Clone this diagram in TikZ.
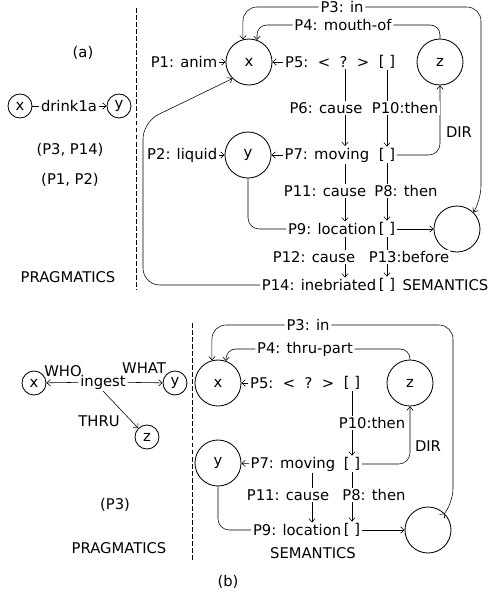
\documentclass[tikz,border=0pt]{standalone}
\usepackage{fontspec}
\setmainfont{DejaVu Sans}
\usetikzlibrary{arrows.meta,backgrounds}

\begin{document}
\begin{tikzpicture}[
  x=0.025cm, y=-0.025cm, line width=0.6pt,
  >={Straight Barb[length=2.5pt,width=4.5pt]},
  every node/.style={font=\fontsize{10.5}{12}\selectfont},
  var/.style={circle, draw, minimum size=1.15cm, inner sep=0pt},
  svar/.style={circle, draw, minimum size=0.6cm, inner sep=0pt},
  txt/.style={inner sep=1pt},
  cut/.style={inner sep=1pt, fill=white},
  divider/.style={dash pattern=on 3.5pt off 1.5pt}
]
\useasboundingbox (0,0) rectangle (490,595);

% (a) pragmatics
\node[txt] (taga) at (83,53) {(a)};
\node[svar] (xl) at (20,106) {x};
\node[svar] (yl) at (119,106) {y};
\node[txt] (drink) at (69,106) {drink1a};
\node[txt] (pra) at (70,150) {(P3, P14)};
\node[txt] (prb) at (70,180) {(P1, P2)};
\node[txt] (praga) at (68,277) {PRAGMATICS};
\draw[divider] (136,8) -- (136,290);

% (a) semantics
\node[var] (xa) at (249,62) {x};
\node[var] (za) at (440,62) {z};
\node[var] (ya) at (248,155) {y};
\node[var] (la) at (457,229) {};
\node[txt, anchor=east] (p1a) at (219,62) {P1: anim};
\node[txt, anchor=east] (p5a) at (371,62) {P5:~~<~~?~~>};
\node[txt] (s5a) at (387,62) {[ ]};
\node[txt, anchor=east] (p2a) at (219,155) {P2: liquid};
\node[txt, anchor=east] (p7a) at (371,155) {P7: moving};
\node[txt] (s7a) at (387,155) {[ ]};
\node[txt, anchor=east] (p9a) at (378,229) {P9: location};
\node[txt] (s9a) at (387,229) {[ ]};
\node[txt, anchor=east] (p14a) at (378,285) {P14: inebriated};
\node[txt] (s14a) at (387,285) {[ ]};
\node[txt, anchor=east] (sema) at (490,285) {SEMANTICS};
\node[txt] (p3a) at (342,7) {P3: in};
\node[txt] (p4a) at (343,25) {P4: mouth-of};
\node[cut] (p6a) at (326,108) {P6: cause};
\node[cut] (p10a) at (405,108) {P10:then};
\node[cut] (p11a) at (325,191) {P11: cause};
\node[cut] (p8a) at (406,191) {P8: then};
\node[cut] (p12a) at (314,257) {P12: cause};
\node[cut] (p13a) at (409,257) {P13:before};
\node[txt] (dira) at (459,132) {DIR};
\coordinate (ca) at (345,0);
\coordinate (p3ra) at (481,200);
\coordinate (p14c) at (143,122);

% (b) pragmatics
\node[svar] (xw) at (34,383) {x};
\node[svar] (yw) at (175,383) {y};
\node[svar] (zw) at (147,437) {z};
\node[txt] (ing) at (103,382) {ingest};
\node[txt] (who) at (63,371) {WHO};
\node[txt] (what) at (144,368) {WHAT};
\node[txt] (thru) at (99,421) {THRU};
\node[txt] (prc) at (115,505) {(P3)};
\node[txt] (pragb) at (119,548) {PRAGMATICS};
\node[txt] (tagb) at (228,582) {(b)};
\draw[divider] (192,323) -- (192,562);

% (b) semantics
\node[var] (xs) at (218,383) {x};
\node[var] (zs) at (410,383) {z};
\node[var] (ys) at (218,463) {y};
\node[var] (ls) at (428,530) {};
\node[txt, anchor=east] (p5b) at (336,383) {P5:~~<~~?~~>};
\node[txt] (s5b) at (352,383) {[ ]};
\node[txt, anchor=east] (p7b) at (337,464) {P7: moving};
\node[txt] (s7b) at (352,464) {[ ]};
\node[txt, anchor=east] (p9b) at (343,530) {P9: location};
\node[txt] (s9b) at (352,530) {[ ]};
\node[txt] (semb) at (313,553) {SEMANTICS};
\node[txt] (p3b) at (308,325) {P3: in};
\node[txt] (p4b) at (305,349) {P4: thru-part};
\node[cut] (p10b) at (372,423) {P10:then};
\node[cut] (p11b) at (288,495) {P11: cause};
\node[cut] (p8b) at (374,495) {P8: then};
\node[txt] (dirb) at (428,446) {DIR};
\coordinate (cb) at (312,0);
\coordinate (p3rb) at (453,503);

\begin{scope}[on background layer]
\draw (xl) -- (drink);
\draw[->] (drink) -- (yl);
\draw[->, rounded corners=10] (p3a) -| (xa.105);
\draw[->, rounded corners=10] (p3a) -| (p3ra) -- (la.45);
\draw[rounded corners=7] (za.north) |- (p4a);
\draw[->, rounded corners=7] (p4a) -| (xa.70);
\draw[->] (p1a) -- (xa);
\draw[->] (p5a) -- (xa);
\draw[->] (p2a) -- (ya);
\draw[->] (p7a) -- (ya);
\draw[->] (p5a.south -| ca) -- (p7a.north -| ca);
\draw[->] (s5a) -- (s7a);
\draw[->] (p7a.south -| ca) -- (p9a.north -| ca);
\draw[->] (s7a) -- (s9a);
\draw[->] (p9a.south -| ca) -- (p14a.north -| ca);
\draw[->] (s9a) -- (s14a);
\draw[->, rounded corners=8] (s7a) -| (za);
\draw[->] (s9a) -- (la);
\draw[rounded corners=8] (ya) |- (p9a);
\draw[->, rounded corners=12] (p14a) -| (p14c) -- (xa.south west);

\draw[->] (ing) -- (xw);
\draw[->] (ing) -- (yw);
\draw[->] (ing.south) -- (zw.north west);
\draw[->, rounded corners=10] (p3b) -| (xs.105);
\draw[->, rounded corners=10] (p3b) -| (p3rb) -- (ls.45);
\draw[rounded corners=7] (zs.north) |- (p4b);
\draw[->, rounded corners=7] (p4b) -| (xs.70);
\draw[->] (p5b) -- (xs);
\draw[->] (p7b) -- (ys);
\draw[->] (s5b) -- (s7b);
\draw[->] (s7b) -- (s9b);
\draw[->] (p7b.south -| cb) -- (p9b.north -| cb);
\draw[->, rounded corners=8] (s7b) -| (zs);
\draw[->] (s9b) -- (ls);
\draw[rounded corners=8] (ys) |- (p9b);
\end{scope}
\end{tikzpicture}
\end{document}
